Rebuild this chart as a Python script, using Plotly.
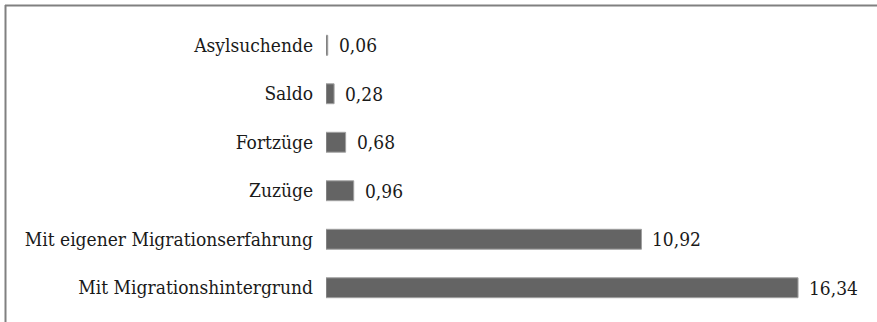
import plotly.graph_objects as go

categories = ["Asylsuchende", "Saldo", "Fortzüge", "Zuzüge",
              "Mit eigener Migrationserfahrung", "Mit Migrationshintergrund"]
values = [0.06, 0.28, 0.68, 0.96, 10.92, 16.34]
value_labels = ["0,06", "0,28", "0,68", "0,96", "10,92", "16,34"]

W, H = 877, 322
ML, MR, MT, MB = 326, 31, 21, 10
PW, PH = W - ML - MR, H - MT - MB
FONT = "DejaVu Serif Condensed"

fig = go.Figure(go.Bar(
    x=values, y=categories, orientation="h",
    marker=dict(color="#646464", line=dict(color="#a0a0a0", width=1)),
    width=0.41, hoverinfo="skip",
))

for c, v, t in zip(categories, values, value_labels):
    fig.add_annotation(x=v, y=c, text=t, showarrow=False, xanchor="left",
                       xshift=9, yshift=0,
                       font=dict(family=FONT, size=19, color="#1a1a1a"))

def px_x(p):
    return (p - ML) / PW

def px_y(p):
    return 1 - (p - MT) / PH

fig.add_shape(type="line", xref="paper", yref="paper",
              x0=px_x(5), x1=px_x(880), y0=px_y(5.5), y1=px_y(5.5),
              line=dict(color="#808080", width=2))
fig.add_shape(type="line", xref="paper", yref="paper",
              x0=px_x(5.5), x1=px_x(5.5), y0=px_y(5), y1=px_y(330),
              line=dict(color="#808080", width=2))

fig.update_layout(
    width=W, height=H, margin=dict(l=ML, r=MR, t=MT, b=MB),
    plot_bgcolor="white", paper_bgcolor="white", showlegend=False,
    font=dict(family=FONT, size=19, color="#1a1a1a"),
    xaxis=dict(range=[0, 18], visible=False, showgrid=False, zeroline=False),
    yaxis=dict(categoryorder="array", categoryarray=categories,
               autorange="reversed", showgrid=False, zeroline=False,
               showline=False, ticks="", ticklabelstandoff=12,
               tickfont=dict(family=FONT, size=19, color="#1a1a1a")),
)

fig.write_html("out.html")
